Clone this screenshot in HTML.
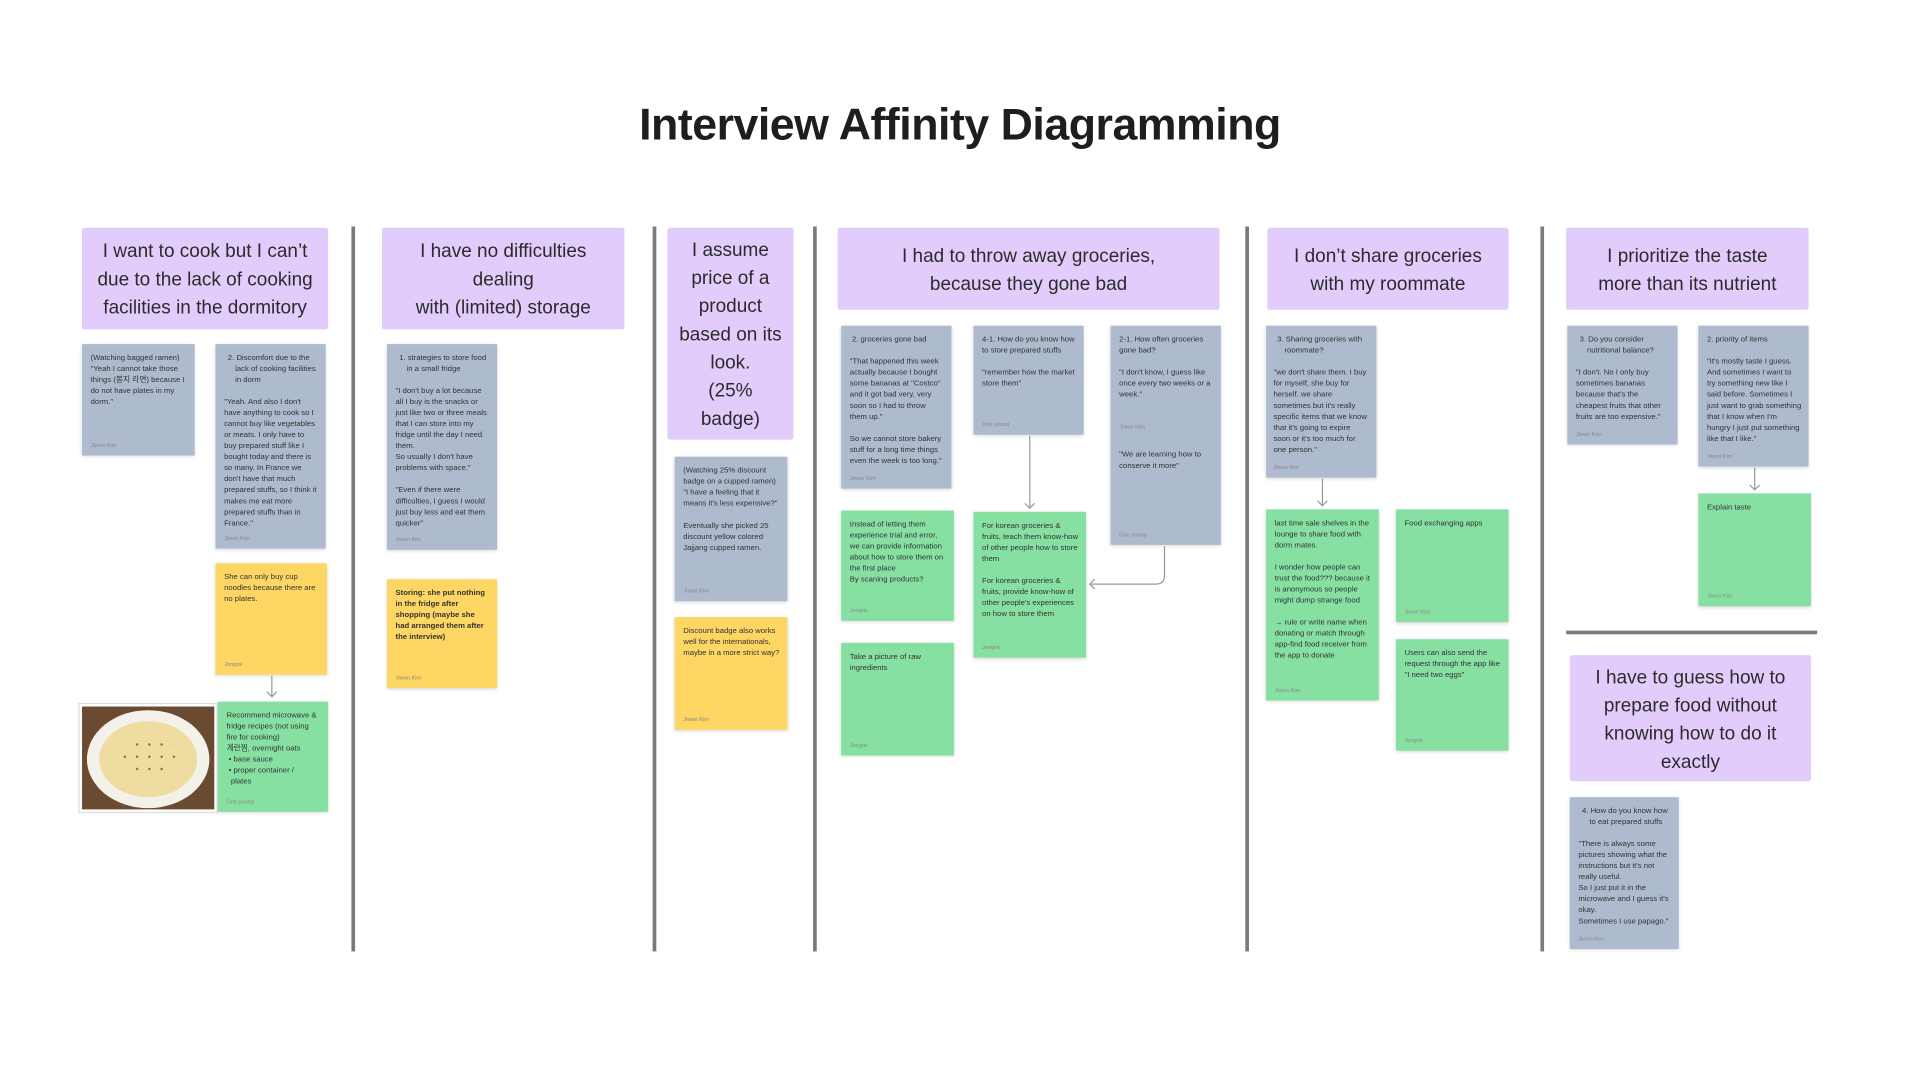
<!DOCTYPE html>
<html><head><meta charset="utf-8">
<style>
html,body{margin:0;padding:0;background:#fff;width:1920px;height:1080px;overflow:hidden}
#f{position:absolute;left:0;top:0;width:1568px;height:882px;transform:scale(1.22449);transform-origin:0 0;font-family:"Liberation Sans","Noto Sans CJK KR",sans-serif;color:#2a2a2a}
.t{position:absolute;left:0;width:1568px;top:81px;text-align:center;font-weight:bold;font-size:36.5px;letter-spacing:-0.4px;color:#1e1e1e}
.d{position:absolute;width:3px;background:#7a7a7a;top:185px;height:592px}
.h{position:absolute;background:#e2ccfb;border-radius:2px;display:flex;align-items:center;justify-content:center;text-align:center;font-size:15.5px;line-height:23px;color:#2b2b2b;box-sizing:border-box;padding:2px 4px 0}
.n{position:absolute;box-sizing:border-box;padding:7px 6px 5px 7px;font-size:6.3px;line-height:9px;color:#333;display:flex;flex-direction:column;box-shadow:0 1px 3px rgba(0,0,0,.18)}
.n p{margin:0 0 9px 0}
.n .a{margin-top:auto;font-size:4.6px;color:#888;line-height:7px}
.g{background:#aebace}.y{background:#fdd663}.gr{background:#86e0a2}
.ind{padding-left:9px;text-indent:-6px}
</style></head><body><div id="f">
<div class="t">Interview Affinity Diagramming</div>
<div class="d" style="left:287px"></div>
<div class="d" style="left:533px"></div>
<div class="d" style="left:664px"></div>
<div class="d" style="left:1017px"></div>
<div class="d" style="left:1258px"></div>
<div style="position:absolute;left:1279px;top:515px;width:205px;height:3px;background:#7a7a7a"></div>

<div class="h" style="left:67px;top:186px;width:201px;height:83px">I want to cook but I can’t due to the lack of cooking facilities in the dormitory</div>
<div class="h" style="left:312px;top:186px;width:198px;height:83px">I have no difficulties dealing<br>with (limited) storage</div>
<div class="h" style="left:545px;top:186px;width:103px;height:173px;padding:2px 8px 0">I assume price of a product based on its look.<br>(25%<br>badge)</div>
<div class="h" style="left:684px;top:186px;width:312px;height:67px">I had to throw away groceries,<br>because they gone bad</div>
<div class="h" style="left:1035px;top:186px;width:197px;height:67px">I don’t share groceries<br>with my roommate</div>
<div class="h" style="left:1279px;top:186px;width:198px;height:67px">I prioritize the taste<br>more than its nutrient</div>
<div class="h" style="left:1282px;top:535px;width:197px;height:103px">I have to guess how to prepare food without knowing how to do it exactly</div>

<svg style="position:absolute;left:0;top:0" width="1568" height="882">
<g stroke="#999" stroke-width="1" fill="none">
<path d="M222 552V569M218 565l4 4 4-4"/>
<path d="M841 356V415M837 411l4 4 4-4"/>
<path d="M951 446V470q0 7-7 7H890M894 473l-4 4 4 4"/>
<path d="M1080 391V413M1076 409l4 4 4-4"/>
<path d="M1433 382V400M1429 396l4 4 4-4"/>
</g></svg>

<!-- col1 -->
<div class="n g" style="left:67px;top:281px;width:92px;height:91px"><div>(Watching bagged ramen)<br>"Yeah I cannot take those things (봉지 라면) because I do not have plates in my dorm."</div><div class="a">Jiwon Kim</div></div>
<div class="n g" style="left:176px;top:281px;width:90px;height:167px"><p class="ind">2. Discomfort due to the lack of cooking facilities in dorm</p><div>"Yeah. And also I don't have anything to cook so I cannot buy like vegetables or meats. I only have to buy prepared stuff like I bought today and there is so many. In France we don't have that much prepared stuffs, so I think it makes me eat more prepared stuffs than in France."</div><div class="a">Jiwon Kim</div></div>
<div class="n y" style="left:176px;top:460px;width:91px;height:91px"><div>She can only buy cup noodles because there are no plates.</div><div class="a">Jongok</div></div>
<div style="position:absolute;left:64px;top:574px;width:114px;height:90px;background:#fff;border:1px solid #ddd;box-sizing:border-box;padding:2px">
<div style="width:100%;height:100%;background:#6b4a32;position:relative;overflow:hidden"><div style="position:absolute;left:4px;top:3px;width:100px;height:80px;border-radius:50%;background:#f4f1ea"></div><div style="position:absolute;left:14px;top:12px;width:80px;height:62px;border-radius:50%;background:#efdca0"></div><div style="position:absolute;left:30px;top:26px;width:50px;height:30px;border-radius:50%;background:radial-gradient(circle,#5a8a4a 0 15%,transparent 16%) 0 0/10px 10px"></div></div></div>
<div class="n gr" style="left:178px;top:573px;width:90px;height:90px"><div>Recommend microwave &amp; fridge recipes (not using fire for cooking)<br>계란찜, overnight oats<br>&nbsp;• base sauce<br>&nbsp;• proper container / &nbsp;&nbsp;plates</div><div class="a">One young</div></div>

<!-- col2 -->
<div class="n g" style="left:316px;top:281px;width:90px;height:168px"><p class="ind">1. strategies to store food in a small fridge</p><p>"I don't buy a lot because all I buy is the snacks or just like two or three meals that I can store into my fridge until the day I need them.<br>So usually I don't have problems with space."</p><div>"Even if there were difficulties, I guess I would just buy less and eat them quicker"</div><div class="a">Jiwon Kim</div></div>
<div class="n y" style="left:316px;top:473px;width:90px;height:89px"><div style="font-weight:bold">Storing: she put nothing in the fridge after shopping (maybe she had arranged them after the interview)</div><div class="a">Jiwon Kim</div></div>

<!-- col3 -->
<div class="n g" style="left:551px;top:373px;width:92px;height:118px"><p>(Watching 25% discount badge on a cupped ramen)<br>"I have a feeling that it means it's less expensive?"</p><div>Eventually she picked 25 discount yellow colored Jajjang cupped ramen.</div><div class="a">Jiwon Kim</div></div>
<div class="n y" style="left:551px;top:504px;width:92px;height:92px"><div>Discount badge also works well for the internationals, maybe in a more strict way?</div><div class="a">Jiwon Kim</div></div>

<!-- col4 -->
<div class="n g" style="left:687px;top:266px;width:90px;height:133px"><p>&nbsp;2. groceries gone bad</p><p>"That happened this week actually because I bought some bananas at "Costco" and it got bad very, very soon so I had to throw them up."</p><div>So we cannot store bakery stuff for a long time things even the week is too long."</div><div class="a">Jiwon Kim</div></div>
<div class="n g" style="left:795px;top:266px;width:90px;height:89px"><p>4-1. How do you know how to store prepared stuffs</p><div>"remember how the market store them"</div><div class="a">One young</div></div>
<div class="n g" style="left:907px;top:266px;width:90px;height:179px"><p>2-1. How often groceries gone bad?</p><div>"I don't know, I guess like once every two weeks or a week."</div><div class="a" style="margin-top:18px">Jiwon Kim</div><div style="margin-top:15px">"We are learning how to conserve it more"</div><div class="a">One young</div></div>
<div class="n gr" style="left:687px;top:417px;width:92px;height:90px"><div>Instead of letting them experience trial and error, we can provide information about how to store them on the first place<br>By scaning products?</div><div class="a">Jongok</div></div>
<div class="n gr" style="left:795px;top:418px;width:92px;height:119px"><p>For korean groceries &amp; fruits, teach them know-how of other people how to store them</p><div>For korean groceries &amp; fruits, provide know-how of other people's experiences on how to store them</div><div class="a">Jongok</div></div>
<div class="n gr" style="left:687px;top:525px;width:92px;height:92px"><div>Take a picture of raw ingredients</div><div class="a">Jongok</div></div>

<!-- col5 -->
<div class="n g" style="left:1034px;top:266px;width:90px;height:124px;padding-left:6px"><p class="ind">3. Sharing groceries with roommate?</p><div>"we don't share them. I buy for myself, she buy for herself. we share sometimes but it's really specific items that we know that it's going to expire soon or it's too much for one person."</div><div class="a">Jiwon Kim</div></div>
<div class="n gr" style="left:1034px;top:416px;width:92px;height:156px"><p>last time sale shelves in the lounge to share food with dorm mates.</p><p>I wonder how people can trust the food??? because it is anonymous so people might dump strange food</p><div>→ rule or write name when donating or match through app-find food receiver from the app to donate</div><div class="a">Jiwon Kim</div></div>
<div class="n gr" style="left:1140px;top:416px;width:92px;height:92px"><div>Food exchanging apps</div><div class="a">Jiwon Kim</div></div>
<div class="n gr" style="left:1140px;top:522px;width:92px;height:91px"><div>Users can also send the request through the app like "I need two eggs"</div><div class="a">Jongok</div></div>

<!-- col6 -->
<div class="n g" style="left:1280px;top:266px;width:90px;height:97px"><p class="ind">3. Do you consider nutritional balance?</p><div>"I don't. No I only buy sometimes bananas because that's the cheapest fruits that other fruits are too expensive."</div><div class="a">Jiwon Kim</div></div>
<div class="n g" style="left:1387px;top:266px;width:90px;height:115px"><p>2. priority of items</p><div>"It's mostly taste I guess. And sometimes I want to try something new like I said before. Sometimes I just want to grab something that I know when I'm hungry I just put something like that I like."</div><div class="a">Jiwon Kim</div></div>
<div class="n gr" style="left:1387px;top:403px;width:92px;height:92px"><div>Explain taste</div><div class="a">Jiwon Kim</div></div>
<div class="n g" style="left:1282px;top:651px;width:89px;height:124px"><p class="ind">4. How do you know how to eat prepared stuffs</p><div>"There is always some pictures showing what the instructions but it's not really useful.<br>So I just put it in the microwave and I guess it's okay.<br>Sometimes I use papago."</div><div class="a">Jiwon Kim</div></div>
</div></body></html>
